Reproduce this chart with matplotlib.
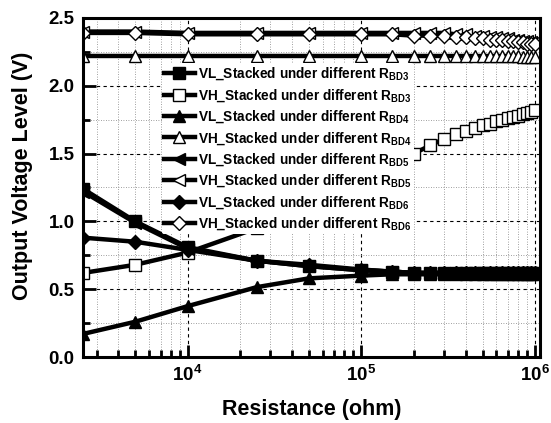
import math
import matplotlib
matplotlib.use("Agg")
import matplotlib.pyplot as plt
from matplotlib.ticker import FixedLocator, MultipleLocator, FuncFormatter, LogLocator, NullFormatter

plt.rcParams['font.family'] = ['Liberation Sans', 'DejaVu Sans']
plt.rcParams['font.weight'] = 'bold'
plt.rcParams['mathtext.fontset'] = 'custom'
plt.rcParams['mathtext.rm'] = 'Liberation Sans:bold'
plt.rcParams['mathtext.bf'] = 'Liberation Sans:bold'
plt.rcParams['mathtext.it'] = 'Liberation Sans:bold'

# Resistance values (ohm)
resistance = [2.5e3, 5e3, 1e4, 2.5e4, 5e4, 1e5, 1.5e5, 2e5, 2.5e5, 3e5, 3.5e5, 4e5,
              4.5e5, 5e5, 5.5e5, 6e5, 6.5e5, 7e5, 7.5e5, 8e5, 8.5e5, 9e5, 9.5e5, 1e6]

vl_rbd3 = [1.24, 1.00, 0.81, 0.71, 0.67, 0.64, 0.63, 0.62, 0.62, 0.62, 0.62, 0.62,
           0.62, 0.62, 0.62, 0.62, 0.62, 0.62, 0.62, 0.62, 0.62, 0.62, 0.62, 0.62]
vh_rbd3 = [0.62, 0.68, 0.77, 0.95, 1.10, 1.28, 1.40, 1.50, 1.56, 1.61, 1.645, 1.67,
           1.69, 1.71, 1.72, 1.74, 1.75, 1.76, 1.77, 1.78, 1.79, 1.80, 1.81, 1.82]
vl_rbd4 = [0.17, 0.26, 0.375, 0.515, 0.58, 0.60, 0.61, 0.61, 0.61, 0.61, 0.61, 0.61,
           0.61, 0.61, 0.61, 0.61, 0.61, 0.61, 0.61, 0.61, 0.61, 0.61, 0.61, 0.61]
vh_rbd4 = [2.22, 2.22, 2.22, 2.22, 2.22, 2.22, 2.22, 2.22, 2.22, 2.22, 2.22, 2.22,
           2.22, 2.22, 2.22, 2.22, 2.22, 2.22, 2.22, 2.22, 2.21, 2.21, 2.21, 2.21]
vl_rbd5 = [1.22, 0.99, 0.80, 0.71, 0.67, 0.64, 0.63, 0.62, 0.62, 0.62, 0.62, 0.62,
           0.62, 0.62, 0.62, 0.62, 0.62, 0.62, 0.62, 0.62, 0.62, 0.62, 0.62, 0.62]
vh_rbd5 = [2.40, 2.40, 2.39, 2.39, 2.39, 2.39, 2.39, 2.39, 2.39, 2.39, 2.38, 2.38,
           2.37, 2.37, 2.36, 2.36, 2.35, 2.35, 2.34, 2.34, 2.33, 2.33, 2.32, 2.32]
vl_rbd6 = [0.88, 0.85, 0.79, 0.71, 0.68, 0.645, 0.63, 0.62, 0.62, 0.62, 0.62, 0.62,
           0.62, 0.62, 0.62, 0.62, 0.62, 0.62, 0.62, 0.62, 0.62, 0.62, 0.62, 0.62]
vh_rbd6 = [2.39, 2.39, 2.38, 2.38, 2.38, 2.38, 2.38, 2.37, 2.37, 2.37, 2.36, 2.36,
           2.35, 2.35, 2.34, 2.34, 2.34, 2.33, 2.33, 2.32, 2.32, 2.31, 2.31, 2.31]

series = [
    (vl_rbd3, 's', 'black', r'VL_Stacked under different R$_{\mathbf{BD3}}$'),
    (vh_rbd3, 's', 'white', r'VH_Stacked under different R$_{\mathbf{BD3}}$'),
    (vl_rbd4, '^', 'black', r'VL_Stacked under different R$_{\mathbf{BD4}}$'),
    (vh_rbd4, '^', 'white', r'VH_Stacked under different R$_{\mathbf{BD4}}$'),
    (vl_rbd5, '<', 'black', r'VL_Stacked under different R$_{\mathbf{BD5}}$'),
    (vh_rbd5, '<', 'white', r'VH_Stacked under different R$_{\mathbf{BD5}}$'),
    (vl_rbd6, 'D', 'black', r'VL_Stacked under different R$_{\mathbf{BD6}}$'),
    (vh_rbd6, 'D', 'white', r'VH_Stacked under different R$_{\mathbf{BD6}}$'),
]

fig = plt.figure(figsize=(5.51, 4.23), dpi=100)
ax = fig.add_axes([83/551, 1-357/423, (540-83)/551, (357-18)/423])

for vals, mk, fc, lab in series:
    ms = 7.5 if mk == 'D' else 8
    ax.plot(resistance, vals, color='black', lw=3.2, marker=mk, ms=ms,
            mfc=fc, mec='black', mew=1.0, label=lab, clip_on=True)

ax.set_xscale('log')
ax.set_xlim(2500, 1.07e6)
ax.set_ylim(0, 2.5)

ax.xaxis.set_major_locator(FixedLocator([1e4, 1e5, 1e6]))
ax.xaxis.set_major_formatter(FuncFormatter(lambda v, p: r'$\mathbf{10^{%d}}$' % round(math.log10(v))))
ax.xaxis.set_minor_locator(LogLocator(base=10, subs=[2, 3, 4, 5, 6, 7, 8, 9], numticks=20))
ax.xaxis.set_minor_formatter(NullFormatter())
ax.yaxis.set_major_locator(MultipleLocator(0.5))
ax.yaxis.set_minor_locator(MultipleLocator(0.25))
ax.yaxis.set_major_formatter(FuncFormatter(lambda v, p: '%.1f' % v))

ax.grid(True, which='major', ls=(0, (3, 3)), color='black', lw=0.8)
ax.grid(True, which='minor', ls=(0, (1, 2)), color='0.5', lw=0.6)
ax.set_axisbelow(True)

ax.tick_params(which='major', direction='in', length=9, width=2, labelsize=13.5, pad=6)
ax.tick_params(which='minor', direction='in', length=5, width=2)
for lbl in ax.get_xticklabels() + ax.get_yticklabels():
    lbl.set_fontweight('bold')
for sp in ax.spines.values():
    sp.set_linewidth(2.2)

ax.set_xlabel('Resistance (ohm)', fontsize=15.5, fontweight='bold', labelpad=10)
ax.set_ylabel('Output Voltage Level (V)', fontsize=15.5, fontweight='bold')
ax.yaxis.set_label_coords(-0.11, 0.535)

leg = ax.legend(loc='upper left', bbox_to_anchor=(0.172, 0.866), frameon=True,
                fontsize=9.8, labelspacing=0.34, handlelength=2.3, handletextpad=0.25,
                borderpad=0.15, borderaxespad=0.0)
leg.get_frame().set_edgecolor('none')
leg.get_frame().set_facecolor('white')
leg.get_frame().set_alpha(1.0)
for t in leg.get_texts():
    t.set_fontweight('bold')

fig.savefig('out.png', dpi=100)
